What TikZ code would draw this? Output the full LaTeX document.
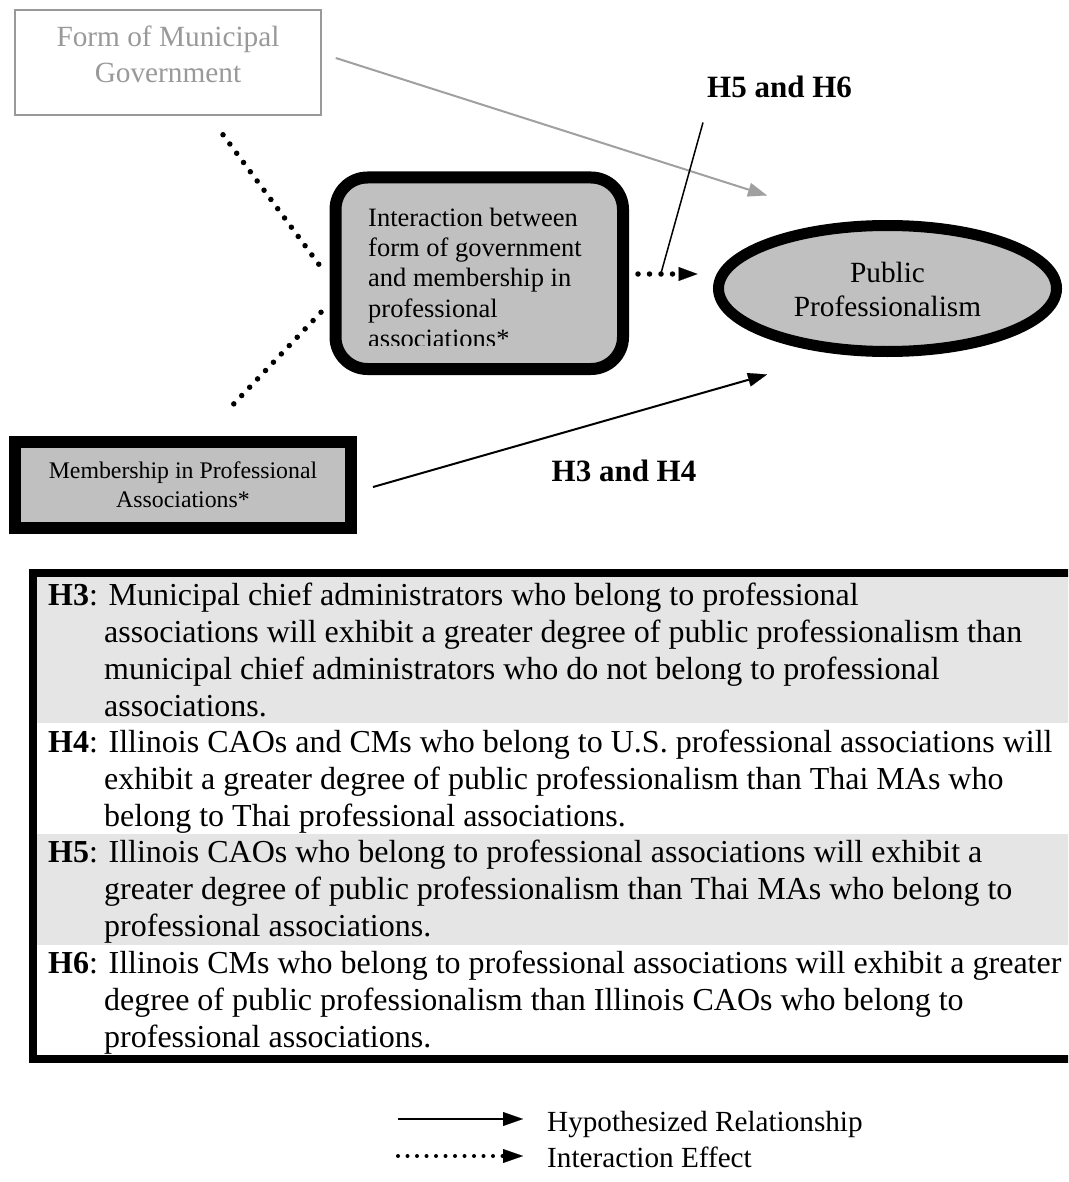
\documentclass[tikz,border=0pt]{standalone}
\usepackage{fontspec}
\setmainfont{Liberation Serif}
\usetikzlibrary{arrows.meta,shapes.geometric,calc}
\definecolor{boxgray}{HTML}{C0C0C0}
\definecolor{rowgray}{HTML}{E5E5E5}
\definecolor{formgray}{HTML}{999999}
\definecolor{arrowgray}{HTML}{A0A0A0}
\begin{document}
\begin{tikzpicture}[x=1pt,y=-1pt,
  txt/.style={inner sep=0pt, anchor=base},
  txtl/.style={inner sep=0pt, anchor=base west},
  hyp/.style={txtl, font=\fontsize{32}{37}\selectfont},
  head/.style={-{Triangle[length=19pt,width=14pt,line width=0.1pt]}},
  solidarrow/.style={head, line width=2pt, black},
  grayarrow/.style={head, line width=2pt, draw=arrowgray, fill=arrowgray},
  dotline/.style={line width=5.5pt, line cap=round, dash pattern=on 0pt off 11.5pt},
  dotarrow/.style={dotline, head},
  bigbox/.style={draw=black, fill=boxgray, inner sep=0pt}
]
\useasboundingbox (0,0) rectangle (1068,1182);
\clip (0,0) rectangle (1068,1182);

% --- Form of municipal government (grey box) ---
\node[draw=formgray, line width=1.5pt, minimum width=306pt, minimum height=105pt, inner sep=0pt] (form) at (168,62.5) {};
\begin{scope}[font=\fontsize{29.3}{36}\selectfont, text=formgray]
  \node[txt] (formt1) at (168,47) {Form of Municipal};
  \node[txt] (formt2) at (168,83) {Government};
\end{scope}

% --- Interaction box ---
\node[bigbox, line width=12pt, rounded corners=32pt, minimum width=287.5pt, minimum height=191.5pt] (inter) at (479.25,273.25) {};
\begin{scope}
  \clip (342,184) rectangle (617,345);
  \begin{scope}[font=\fontsize{26.5}{30}\selectfont]
    \node[txtl] (it1) at (368,226) {Interaction between};
    \node[txtl] (it2) at (368,256.3) {form of government};
    \node[txtl] (it3) at (368,286.6) {and membership in};
    \node[txtl] (it4) at (368,317) {professional};
    \node[txtl] (it5) at (368,347.5) {associations*};
  \end{scope}
\end{scope}

% --- Public professionalism (ellipse) ---
\node[ellipse, bigbox, line width=11pt, minimum width=338pt, minimum height=126pt] (pp) at (887.5,288.5) {};
\begin{scope}[font=\fontsize{29.3}{34}\selectfont]
  \node[txt] (ppt1) at (887.5,282) {Public};
  \node[txt] (ppt2) at (887.5,316) {Professionalism};
\end{scope}

% --- Membership in professional associations ---
\node[bigbox, line width=12pt, minimum width=336pt, minimum height=85.5pt] (mem) at (183,484.75) {};
\begin{scope}[font=\fontsize{23.8}{29}\selectfont]
  \node[txt] (memt1) at (183,478) {Membership in Professional};
  \node[txt] (memt2) at (183,507) {Associations*};
\end{scope}

% --- Hypothesis labels ---
\begin{scope}[font=\fontsize{31}{36}\selectfont\bfseries]
  \node[txtl] (lab56) at (707,98) {H5 and H6};
  \node[txt] (lab34) at (624,481) {H3 and H4};
\end{scope}

% --- Connectors ---
\draw[grayarrow] ($(form.east)+(14,-4.5)$) -- ($(pp.north)+(-120.5,-24.5)$);
\draw[dotline] ($(form.south)+(55,19)$) -- ($(inter.west)+(-8.5,-6)$);
\draw[dotline] ($(inter.west)+(-8.5,39)$) -- ($(mem.north)+(44,-25)$);
\draw[dotarrow] ($(inter.east)+(9,0.75)$) -- ($(pp.west)+(-15.5,-14.5)$);
\draw[solidarrow] ($(mem.east)+(16,2.25)$) -- ($(pp.south)+(-120.5,17.5)$);
\draw[line width=1.5pt] ($(lab56.south west)+(-4,24)$) -- ($(inter.east)+(32,0)$);

% --- Hypothesis table ---
\fill[rowgray] (37,577) rectangle (1080,723);
\fill[rowgray] (37,834) rectangle (1080,945);
\draw[line width=8pt] (1090,573) -- (33,573) -- (33,1059) -- (1090,1059);

\node[hyp] (h3a) at (48,605) {\textbf{H3}: Municipal chief administrators who belong to professional};
\node[hyp] (h3b) at (104,642) {associations will exhibit a greater degree of public professionalism than};
\node[hyp] (h3c) at (104,679) {municipal chief administrators who do not belong to professional};
\node[hyp] (h3d) at (104,716) {associations.};

\node[hyp] (h4a) at (48,752) {\textbf{H4}: Illinois CAOs and CMs who belong to U.S. professional associations will};
\node[hyp] (h4b) at (104,789) {exhibit a greater degree of public professionalism than Thai MAs who};
\node[hyp] (h4c) at (104,826) {belong to Thai professional associations.};

\node[hyp] (h5a) at (48,862) {\textbf{H5}: Illinois CAOs who belong to professional associations will exhibit a};
\node[hyp] (h5b) at (104,899) {greater degree of public professionalism than Thai MAs who belong to};
\node[hyp] (h5c) at (104,936) {professional associations.};

\node[hyp] (h6a) at (48,973) {\textbf{H6}: Illinois CMs who belong to professional associations will exhibit a greater};
\node[hyp] (h6b) at (104,1010) {degree of public professionalism than Illinois CAOs who belong to};
\node[hyp] (h6c) at (104,1047) {professional associations.};

% --- Legend ---
\begin{scope}[font=\fontsize{29.2}{34}\selectfont]
  \node[txtl] (lg1t) at (547,1131) {Hypothesized Relationship};
  \node[txtl] (lg2t) at (547,1167) {Interaction Effect};
\end{scope}
\coordinate (lg1a) at (398,1119);
\coordinate (lg1b) at (523,1119);
\coordinate (lg2a) at (398,1156);
\coordinate (lg2b) at (523,1156);
\draw[-{Triangle[length=20pt,width=14pt,line width=0.1pt]}, line width=2pt] (lg1a) -- (lg1b);
\draw[-{Triangle[length=20pt,width=14pt,line width=0.1pt]}, line width=4pt, line cap=round, dash pattern=on 0pt off 9.5pt] (lg2a) -- (lg2b);
\end{tikzpicture}
\end{document}
